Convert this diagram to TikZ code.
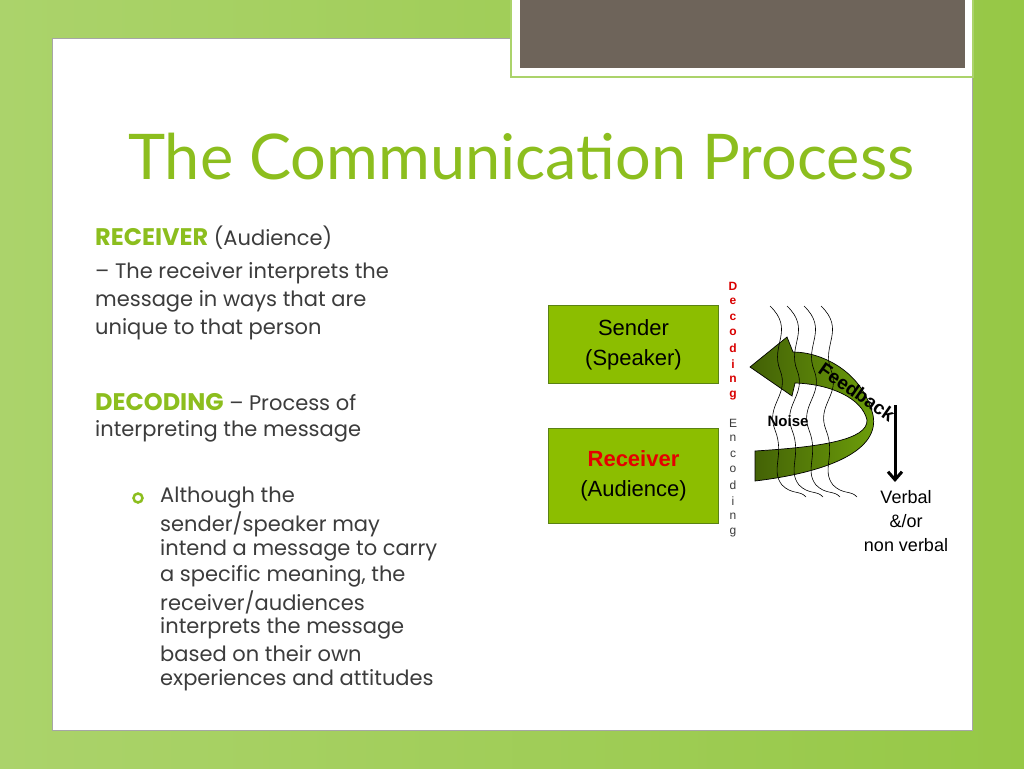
\documentclass[tikz,border=0pt]{standalone}
\usetikzlibrary{arrows.meta}
\usepackage{fontspec}
\setmainfont{Lato}
\newfontfamily\pop{Poppins}
\newfontfamily\arial{Liberation Sans}
\begin{document}
\begin{tikzpicture}[x=1pt,y=-1pt]
\definecolor{bgg}{RGB}{150,200,70}
\definecolor{ttl}{RGB}{140,190,30}
\definecolor{boxg}{RGB}{140,190,0}
\definecolor{boxb}{RGB}{90,130,20}
\definecolor{txt}{RGB}{60,60,60}
\definecolor{arr}{RGB}{110,160,10}
\definecolor{tab}{RGB}{110,100,90}
\tikzset{body/.style={anchor=west,inner sep=0pt,text=txt,font=\pop\fontsize{21}{21}\selectfont},
 pbox/.style={draw=boxb,line width=1pt,fill=boxg,font=\arial\fontsize{22}{30}\selectfont,align=center,minimum width=170pt,anchor=north west,inner sep=0pt},
 vl/.style={font=\arial\fontsize{12}{12}\selectfont,inner sep=0pt},
 wave/.style={line width=0.6pt}}
\useasboundingbox (0,0) rectangle (1024,768);
\shade[left color=bgg!80!white,right color=bgg] (0,0) rectangle (1024,768);
\fill[white] (52,38) rectangle (972,730);
\draw[gray!70,line width=0.8pt] (52,38) rectangle (972,730);
\fill[bgg!80!white] (510,0) rectangle (974,78);
\fill[white] (512,0) rectangle (972,76);
\fill[tab] (520,0) rectangle (965,68);
\node[anchor=west,text=ttl,inner sep=0pt,font=\fontsize{63}{63}\selectfont] (title) at (128,157) {The Communication Process};
\node[body] (r1) at (95,238) {\textcolor{ttl}{\bfseries\fontsize{24}{24}\selectfont RECEIVER} (Audience)};
\node[body] (r2) at (95,273) {– The receiver interprets the};
\node[body] (r3) at (95,301) {message in ways that are};
\node[body] (r4) at (95,329) {unique to that person};
\node[body] (d1) at (95,402) {\textcolor{ttl}{\bfseries\fontsize{24}{24}\selectfont DECODING} – Process of};
\node[body] (d2) at (95,431) {interpreting the message};
\draw[ttl,line width=2.5pt] (138,498) circle (4.5pt);
\foreach \t [count=\i from 0] in {Although the,sender/speaker may,intend a message to carry,a specific meaning{,} the,receiver/audiences,interprets the message,based on their own,experiences and attitudes}
  \node[body] (b\i) at (160,498+26*\i) {\t};
\node[pbox,minimum height=78pt] (snd) at (548,305) {Sender\\(Speaker)};
\node[pbox,minimum height=95pt] (rcv) at (548,428) {\textcolor{red!90!black}{\bfseries Receiver}\\(Audience)};
\foreach \c [count=\i from 0] in {D,e,c,o,d,i,n,g}
  \node[vl,text=red!85!black,font=\arial\bfseries\fontsize{12}{12}\selectfont] (dc\i) at (733,286+15.6*\i) {\c};
\foreach \c [count=\i from 0] in {E,n,c,o,d,i,n,g}
  \node[vl,text=txt] (ec\i) at (733,423+15.6*\i) {\c};
\shade[left color=arr!60!black,right color=arr,draw=black,line width=0.7pt]
 (755,481) .. controls (830,472) and (880,450) .. (873,415) .. controls (862,370) and (820,352) .. (793,352) -- (787,337) -- (750,367) -- (792,396) -- (795,383) .. controls (830,384) and (862,398) .. (867,420) .. controls (868,440) and (820,447) .. (755,451) -- cycle;
\foreach \dx in {0,17,34,51}{
 \draw[wave] (770+\dx,306) .. controls (795+\dx,330) and (770+\dx,345) .. (780+\dx,370)
   .. controls (790+\dx,395) and (765+\dx,405) .. (775+\dx,430)
   .. controls (785+\dx,455) and (770+\dx,470) .. (782+\dx,485)
   .. controls (792+\dx,495) and (800+\dx,490) .. (806+\dx,497);}
\node[font=\arial\bfseries\fontsize{15}{15}\selectfont,inner sep=0pt] (noise) at (788,421) {Noise};
\node[font=\arial\bfseries\fontsize{19}{19}\selectfont,rotate=-35,inner sep=0pt] (fb) at (857,392) {Feedback};
\coordinate (at) at (895,405);
\coordinate (ab) at (895,482);
\draw[line width=3pt,-{Straight Barb[length=8pt,width=14pt]}] (at) -- (ab);
\node[font=\arial\fontsize{18}{24}\selectfont,align=center,anchor=north,inner sep=0pt] (vb) at (906,490) {Verbal\\\&/or\\non verbal};
\end{tikzpicture}
\end{document}
